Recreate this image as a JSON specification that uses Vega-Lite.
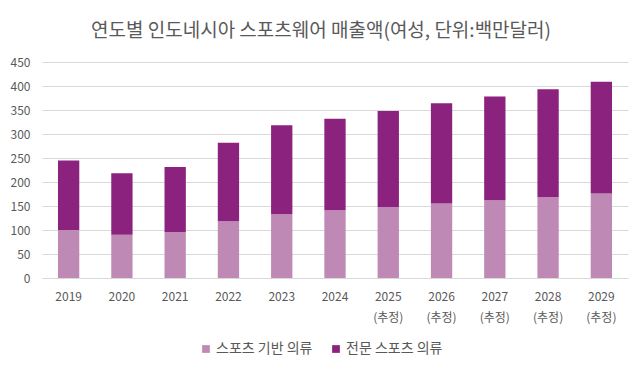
{
  "$schema": "https://vega.github.io/schema/vega-lite/v6.json",
  "width": 586,
  "height": 216,
  "autosize": {"type": "none"},
  "padding": {"left": 42, "right": 11, "top": 62, "bottom": 93},
  "background": "white",
  "title": {
    "text": "연도별 인도네시아 스포츠웨어 매출액(여성, 단위:백만달러)",
    "font": "Noto Sans CJK KR",
    "fontSize": 19,
    "fontWeight": "normal",
    "color": "#595959",
    "offset": 15,
    "dx": -14
  },
  "data": {
    "values": [
      {"year": "2019", "series": "스포츠 기반 의류", "value": 100, "ord": 1},
      {"year": "2019", "series": "전문 스포츠 의류", "value": 145, "ord": 2},
      {"year": "2020", "series": "스포츠 기반 의류", "value": 90, "ord": 1},
      {"year": "2020", "series": "전문 스포츠 의류", "value": 128, "ord": 2},
      {"year": "2021", "series": "스포츠 기반 의류", "value": 96, "ord": 1},
      {"year": "2021", "series": "전문 스포츠 의류", "value": 135, "ord": 2},
      {"year": "2022", "series": "스포츠 기반 의류", "value": 118, "ord": 1},
      {"year": "2022", "series": "전문 스포츠 의류", "value": 164, "ord": 2},
      {"year": "2023", "series": "스포츠 기반 의류", "value": 133, "ord": 1},
      {"year": "2023", "series": "전문 스포츠 의류", "value": 185, "ord": 2},
      {"year": "2024", "series": "스포츠 기반 의류", "value": 141, "ord": 1},
      {"year": "2024", "series": "전문 스포츠 의류", "value": 191, "ord": 2},
      {"year": "2025|(추정)", "series": "스포츠 기반 의류", "value": 148, "ord": 1},
      {"year": "2025|(추정)", "series": "전문 스포츠 의류", "value": 200, "ord": 2},
      {"year": "2026|(추정)", "series": "스포츠 기반 의류", "value": 155, "ord": 1},
      {"year": "2026|(추정)", "series": "전문 스포츠 의류", "value": 209, "ord": 2},
      {"year": "2027|(추정)", "series": "스포츠 기반 의류", "value": 162, "ord": 1},
      {"year": "2027|(추정)", "series": "전문 스포츠 의류", "value": 216, "ord": 2},
      {"year": "2028|(추정)", "series": "스포츠 기반 의류", "value": 169, "ord": 1},
      {"year": "2028|(추정)", "series": "전문 스포츠 의류", "value": 224, "ord": 2},
      {"year": "2029|(추정)", "series": "스포츠 기반 의류", "value": 176, "ord": 1},
      {"year": "2029|(추정)", "series": "전문 스포츠 의류", "value": 233, "ord": 2}
    ]
  },
  "mark": {"type": "bar"},
  "encoding": {
    "x": {
      "field": "year",
      "type": "nominal",
      "sort": null,
      "scale": {"paddingInner": 0.6, "paddingOuter": 0.3},
      "axis": {
        "title": null,
        "labelAngle": 0,
        "labelExpr": "split(datum.value, '|')",
        "labelFont": "Noto Sans CJK KR",
        "labelFontSize": 12,
        "labelColor": "#595959",
        "labelPadding": 13,
        "labelLineHeight": 21,
        "ticks": false,
        "domainColor": "#d9d9d9",
        "grid": false
      }
    },
    "y": {
      "field": "value",
      "type": "quantitative",
      "stack": "zero",
      "scale": {"domain": [0, 450]},
      "axis": {
        "title": null,
        "values": [0, 50, 100, 150, 200, 250, 300, 350, 400, 450],
        "labelFont": "Noto Sans CJK KR",
        "labelFontSize": 12,
        "labelColor": "#595959",
        "labelPadding": 12,
        "ticks": false,
        "domain": false,
        "gridColor": "#d9d9d9",
        "gridWidth": 1
      }
    },
    "color": {
      "field": "series",
      "type": "nominal",
      "scale": {
        "domain": ["스포츠 기반 의류", "전문 스포츠 의류"],
        "range": ["#bf89b6", "#8b237e"]
      },
      "legend": {
        "title": null,
        "orient": "none",
        "legendX": 157,
        "legendY": 280,
        "direction": "horizontal",
        "symbolType": "square",
        "symbolSize": 60,
        "symbolStrokeWidth": 0,
        "labelFont": "Noto Sans CJK KR",
        "labelFontSize": 14,
        "labelColor": "#595959",
        "columnPadding": 16,
        "labelOffset": 3
      }
    },
    "order": {"field": "ord", "type": "quantitative"}
  },
  "config": {
    "view": {"stroke": null}
  }
}
